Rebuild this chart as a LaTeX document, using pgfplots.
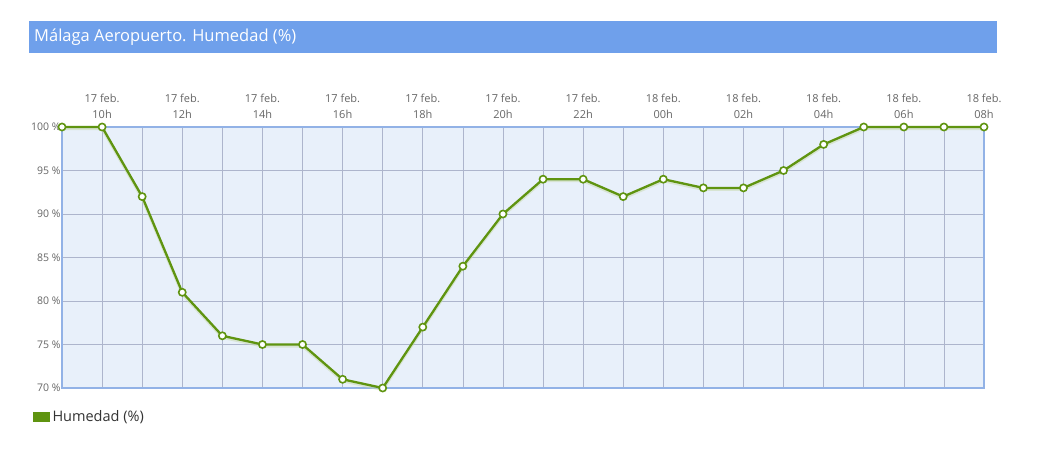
\documentclass[border=0pt]{standalone}
\usepackage{pgfplots}
\pgfplotsset{compat=1.18}
\usepackage{fontspec}
\setmainfont{Open Sans}
\definecolor{titlebar}{HTML}{6FA0EB}
\definecolor{plotbg}{HTML}{E8F0FA}
\definecolor{gridc}{HTML}{ADB5CC}
\definecolor{framec}{HTML}{92B2E6}
\definecolor{linec}{HTML}{5F9410}
\definecolor{tickc}{HTML}{666666}

\begin{document}
\begin{tikzpicture}[x=1pt,y=1pt]
\path[use as bounding box, fill=white] (0,0) rectangle (1044,467);
\fill[titlebar] (29,414) rectangle (997,446);
\node[anchor=west, text=white, font=\fontsize{16.5}{19}\selectfont, inner sep=0pt] at (34,430) {Málaga Aeropuerto. Humedad (\%)};
\begin{axis}[
    at={(62pt,79pt)}, anchor=south west,
    scale only axis, width=922pt, height=261pt,
    xmin=0, xmax=23, ymin=70, ymax=100,
    axis background/.style={fill=plotbg},
    axis line style={framec, line width=1.2pt},
    xtick={1,3,...,23},
    minor xtick={2,4,...,22},
    xticklabels={{17 feb.\\10h},{17 feb.\\12h},{17 feb.\\14h},{17 feb.\\16h},{17 feb.\\18h},{17 feb.\\20h},{17 feb.\\22h},{18 feb.\\00h},{18 feb.\\02h},{18 feb.\\04h},{18 feb.\\06h},{18 feb.\\08h}},
    xticklabel pos=top,
    xticklabel style={align=center, text=tickc, font=\fontsize{11}{16}\selectfont, yshift=5pt},
    ytick={70,75,...,100},
    yticklabels={70 \%,75 \%,80 \%,85 \%,90 \%,95 \%,100 \%},
    yticklabel style={text=tickc, font=\fontsize{10.5}{12}\selectfont, xshift=2pt},
    major tick length=0pt, minor tick length=0pt,
    grid=both,
    major grid style={gridc, line width=0.6pt},
    minor grid style={gridc, line width=0.6pt},
    clip=false,
    legend style={at={(-32pt,-29pt)}, anchor=west, draw=none, fill=none,
      font=\fontsize{14.5}{16}\selectfont, text=black!80,
      legend cell align=left, /tikz/every even column/.append style={column sep=0pt}},
    legend image code/.code={\fill[linec] (0pt,-3.5pt) rectangle (15pt,3.5pt);},
  ]
\addplot[linec!35, line width=3pt, opacity=0.5, forget plot, yshift=-1.5pt] coordinates {
(0,100) (1,100) (2,92) (3,81) (4,76) (5,75) (6,75) (7,71) (8,70) (9,77) (10,84) (11,90)
(12,94) (13,94) (14,92) (15,94) (16,93) (17,93) (18,95) (19,98) (20,100) (21,100) (22,100) (23,100)};
\addplot[linec, line width=2.3pt, mark=*, mark size=3.6pt,
  mark options={fill=white, draw=linec, line width=1.6pt}] coordinates {
(0,100) (1,100) (2,92) (3,81) (4,76) (5,75) (6,75) (7,71) (8,70) (9,77) (10,84) (11,90)
(12,94) (13,94) (14,92) (15,94) (16,93) (17,93) (18,95) (19,98) (20,100) (21,100) (22,100) (23,100)};
\addlegendentry{Humedad (\%)}
\end{axis}
\end{tikzpicture}
\end{document}
